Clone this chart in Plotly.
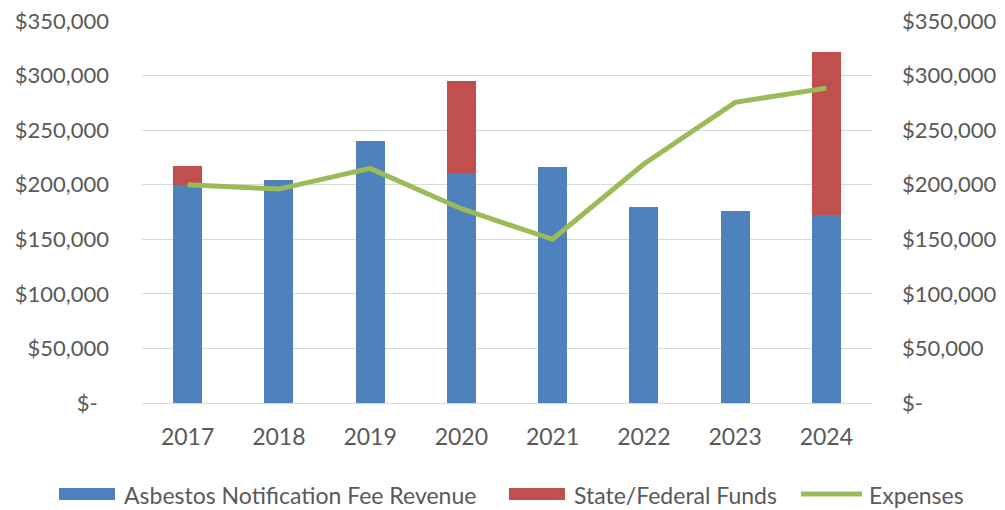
import plotly.graph_objects as go

years = ["2017", "2018", "2019", "2020", "2021", "2022", "2023", "2024"]
fee_revenue = [200000, 204000, 240000, 211000, 216000, 180000, 176000, 172000]
state_federal = [17000, 0, 0, 84000, 0, 0, 0, 150000]
expenses = [200000, 196000, 215000, 178000, 150000, 219000, 275500, 288500]

tick_vals = [0, 50000, 100000, 150000, 200000, 250000, 300000, 350000]
tick_text_left = ["$-\u00a0\u00a0", "$50,000", "$100,000", "$150,000", "$200,000", "$250,000", "$300,000", "$350,000"]
tick_text_right = ["$-", "$50,000", "$100,000", "$150,000", "$200,000", "$250,000", "$300,000", "$350,000"]

BLUE = "#4f81bd"
RED = "#c0504d"
GREEN = "#9bbb59"
TEXT = "#595959"
GRID = "#d9d9d9"
FONT = "Lato, Open Sans, sans-serif"

W, H = 1005, 510
L, R, T, B = 142, 133, 21, 107
PW, PH = W - L - R, H - T - B


def px_x(x):
    return (x - L) / PW


def px_y(y):
    return (H - B - y) / PH


fig = go.Figure()
fig.add_trace(go.Bar(x=years, y=fee_revenue, name="Asbestos Notification Fee Revenue",
                     marker=dict(color=BLUE, line=dict(width=0)), width=0.32, showlegend=False))
fig.add_trace(go.Bar(x=years, y=state_federal, name="State/Federal Funds",
                     marker=dict(color=RED, line=dict(width=0)), width=0.32, showlegend=False))
fig.add_trace(go.Scatter(x=years, y=expenses, name="Expenses", mode="lines",
                         line=dict(color=GREEN, width=5), yaxis="y2", showlegend=False))

axis_font = dict(family=FONT, size=22, color=TEXT)

fig.update_layout(
    width=W, height=H,
    margin=dict(l=L, r=R, t=T, b=B, autoexpand=False),
    paper_bgcolor="white", plot_bgcolor="white",
    barmode="stack",
    font=dict(family=FONT, color=TEXT),
    xaxis=dict(type="category", showgrid=False, showline=False, zeroline=False,
               tickfont=dict(family=FONT, size=23, color=TEXT), ticks="",
               ticklabelstandoff=18, automargin=False),
    yaxis=dict(range=[0, 350000], tickvals=tick_vals, ticktext=tick_text_left,
               showgrid=True, gridcolor=GRID, gridwidth=1, zeroline=True,
               zerolinecolor=GRID, zerolinewidth=1, showline=False,
               tickfont=axis_font, ticks="", ticklabelstandoff=32, automargin=False),
    yaxis2=dict(range=[0, 350000], tickvals=tick_vals, ticktext=tick_text_right,
                overlaying="y", side="right", showgrid=False, zeroline=False,
                showline=False, tickfont=axis_font, ticks="", ticklabelstandoff=29,
                automargin=False),
)

# Legend drawn manually to match wide swatches
legend_items = [
    ("rect", BLUE, 59, 115, 122, "Asbestos Notification Fee Revenue"),
    ("rect", RED, 509, 565, 572, "State/Federal Funds"),
    ("line", GREEN, 801, 862, 867, "Expenses"),
]
ly = 494
for kind, color, x0, x1, tx, label in legend_items:
    if kind == "rect":
        fig.add_shape(type="rect", xref="paper", yref="paper",
                      x0=px_x(x0), x1=px_x(x1), y0=px_y(ly + 6), y1=px_y(ly - 6),
                      fillcolor=color, line=dict(width=0))
    else:
        fig.add_shape(type="line", xref="paper", yref="paper",
                      x0=px_x(x0), x1=px_x(x1), y0=px_y(ly), y1=px_y(ly),
                      line=dict(color=color, width=5))
    fig.add_annotation(text=label, xref="paper", yref="paper", x=px_x(tx), y=px_y(ly + 1),
                       xanchor="left", yanchor="middle", showarrow=False,
                       font=dict(family=FONT, size=23, color=TEXT))

fig.write_html("out.html", config={"displayModeBar": False},
               post_script="document.body.style.margin='0';document.body.style.overflow='hidden';")
